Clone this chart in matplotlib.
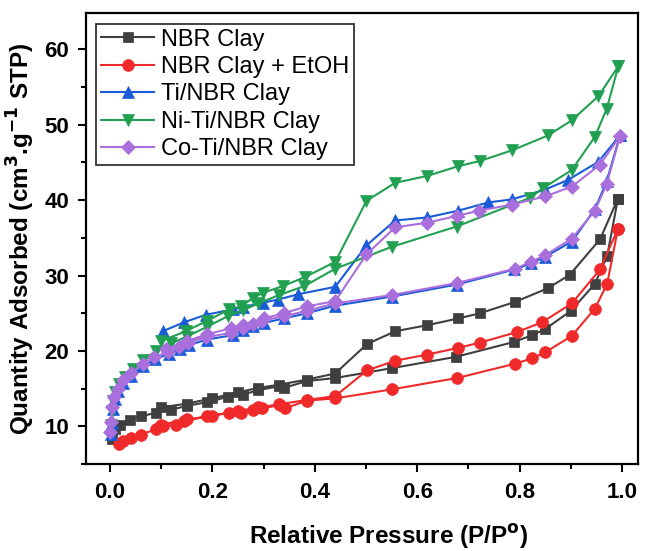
import numpy as np
import matplotlib

matplotlib.use("Agg")
import matplotlib.pyplot as plt

plt.rcParams["font.family"] = ["Liberation Sans", "DejaVu Sans"]

labels = ["NBR Clay", "NBR Clay + EtOH", "Ti/NBR Clay", "Ni-Ti/NBR Clay", "Co-Ti/NBR Clay"]

# NBR Clay
nbr_ads_p = [0.005, 0.01, 0.02, 0.04, 0.06, 0.09, 0.12, 0.15, 0.19, 0.23, 0.26, 0.29, 0.33, 0.34,
             0.385, 0.44, 0.55, 0.675, 0.79, 0.825, 0.85, 0.9, 0.947, 0.971, 0.992]
nbr_ads_q = [8.3, 9.6, 10.2, 10.8, 11.3, 11.8, 12.2, 12.7, 13.2, 13.9, 14.2, 14.8, 15.3, 15.1,
             16.0, 16.4, 17.7, 19.2, 21.2, 22.1, 22.9, 25.3, 28.9, 32.6, 40.2]
nbr_des_p = [0.992, 0.957, 0.898, 0.855, 0.791, 0.723, 0.68, 0.619, 0.557, 0.502, 0.44, 0.385,
             0.33, 0.29, 0.25, 0.2, 0.15, 0.1]
nbr_des_q = [40.2, 34.8, 30.1, 28.3, 26.5, 25.0, 24.3, 23.4, 22.6, 20.9, 17.0, 16.2,
             15.5, 15.1, 14.5, 13.7, 13.0, 12.5]

# NBR Clay + EtOH
etoh_ads_p = [0.018, 0.025, 0.041, 0.06, 0.09, 0.103, 0.129, 0.145, 0.19, 0.233, 0.256, 0.279,
              0.298, 0.332, 0.342, 0.385, 0.44, 0.551, 0.678, 0.791, 0.824, 0.85, 0.902, 0.947,
              0.971, 0.992]
etoh_ads_q = [7.6, 8.0, 8.5, 8.9, 9.6, 10.0, 10.2, 10.7, 11.3, 11.8, 11.8, 12.2,
              12.4, 12.8, 12.4, 13.4, 13.7, 14.9, 16.4, 18.3, 19.0, 19.8, 22.0, 25.6,
              28.9, 36.2]
etoh_des_p = [0.992, 0.957, 0.902, 0.844, 0.795, 0.723, 0.68, 0.619, 0.557, 0.502, 0.44, 0.385,
              0.33, 0.29, 0.25, 0.2, 0.15, 0.1]
etoh_des_q = [36.2, 30.8, 26.3, 23.8, 22.5, 21.1, 20.4, 19.5, 18.7, 17.4, 14.0, 13.5,
              12.9, 12.5, 12.0, 11.4, 10.9, 10.2]

# Ti/NBR Clay
ti_ads_p = [0.002, 0.004, 0.006, 0.01, 0.016, 0.026, 0.042, 0.065, 0.088, 0.115, 0.137, 0.155,
            0.19, 0.24, 0.26, 0.28, 0.3, 0.34, 0.385, 0.44, 0.55, 0.677, 0.79, 0.822, 0.85,
            0.902, 0.947, 0.97, 0.996]
ti_ads_q = [9.0, 10.4, 12.3, 13.6, 14.7, 15.8, 16.7, 18.0, 18.9, 19.6, 20.2, 20.8,
            21.5, 22.1, 22.8, 23.3, 23.7, 24.3, 25.0, 26.0, 27.2, 28.8, 30.8, 31.6, 32.5,
            34.5, 38.8, 42.5, 48.6]
ti_des_p = [0.996, 0.954, 0.895, 0.85, 0.785, 0.739, 0.68, 0.619, 0.557, 0.501, 0.44, 0.367,
            0.328, 0.299, 0.26, 0.24, 0.188, 0.145, 0.103]
ti_des_q = [48.6, 45.1, 42.7, 41.4, 40.1, 39.7, 38.6, 37.7, 37.3, 34.0, 28.5, 27.5,
            26.8, 26.4, 25.8, 25.5, 24.8, 23.8, 22.6]

# Ni-Ti/NBR Clay
niti_ads_p = [0.002, 0.004, 0.006, 0.01, 0.018, 0.03, 0.045, 0.065, 0.09, 0.12, 0.15, 0.19,
              0.23, 0.26, 0.29, 0.33, 0.38, 0.44, 0.55, 0.677, 0.82, 0.846, 0.902, 0.947,
              0.97, 0.993]
niti_ads_q = [10.2, 12.0, 13.3, 14.6, 15.6, 16.6, 17.6, 18.8, 20.0, 21.0, 21.9, 23.2,
              24.6, 25.4, 26.3, 27.4, 28.6, 30.9, 33.8, 36.5, 40.3, 41.6, 44.0, 48.4,
              52.1, 57.8]
niti_des_p = [0.993, 0.954, 0.902, 0.856, 0.785, 0.723, 0.68, 0.619, 0.557, 0.501, 0.44, 0.381,
              0.338, 0.299, 0.279, 0.256, 0.233, 0.19, 0.148, 0.1]
niti_des_q = [57.8, 53.8, 50.6, 48.6, 46.6, 45.2, 44.5, 43.2, 42.3, 39.9, 31.8, 29.8,
              28.6, 27.7, 27.0, 25.9, 25.5, 24.0, 22.6, 21.3]

# Co-Ti/NBR Clay
coti_ads_p = [0.0, 0.002, 0.005, 0.008, 0.015, 0.025, 0.041, 0.064, 0.086, 0.113, 0.135, 0.152,
              0.188, 0.236, 0.259, 0.279, 0.298, 0.34, 0.384, 0.44, 0.55, 0.677, 0.791, 0.822,
              0.85, 0.902, 0.947, 0.97, 0.996]
coti_ads_q = [9.2, 10.6, 12.6, 13.9, 15.0, 16.1, 17.0, 18.3, 19.2, 19.8, 20.5, 21.1,
              21.8, 22.4, 23.1, 23.6, 24.0, 24.6, 25.3, 26.3, 27.4, 29.0, 30.9, 31.8,
              32.7, 34.9, 38.6, 42.1, 48.5]
coti_des_p = [0.996, 0.957, 0.902, 0.85, 0.785, 0.72, 0.677, 0.619, 0.557, 0.501, 0.44, 0.384,
              0.34, 0.3, 0.26, 0.236, 0.19, 0.15, 0.11]
coti_des_q = [48.5, 44.7, 41.8, 40.5, 39.4, 38.6, 37.9, 37.0, 36.4, 32.8, 26.6, 25.9,
              25.0, 24.3, 23.5, 23.0, 22.2, 21.3, 20.2]

series = [
    (nbr_ads_p + nbr_des_p, nbr_ads_q + nbr_des_q, "#3f3f3f", "s", 7.5),
    (etoh_ads_p + etoh_des_p, etoh_ads_q + etoh_des_q, "#f02a2a", "o", 8.5),
    (ti_ads_p + ti_des_p, ti_ads_q + ti_des_q, "#1a5cd8", "^", 8.5),
    (niti_ads_p + niti_des_p, niti_ads_q + niti_des_q, "#22a052", "v", 8.5),
    (coti_ads_p + coti_des_p, coti_ads_q + coti_des_q, "#a96fdc", "D", 7.5),
]

fig = plt.figure(figsize=(6.45, 5.51), dpi=100)
ax = fig.add_axes([0.133, 0.158, 0.856, 0.818])

for (p, q, color, marker, ms), label in zip(series, labels):
    ax.plot(p, q, color=color, marker=marker, markersize=ms, linewidth=1.5,
            markeredgewidth=0.5, label=label)

ax.set_xlim(-0.047, 1.031)
ax.set_ylim(5.7, 64.8)
ax.set_xticks(np.arange(0, 1.01, 0.2))
ax.set_xticks(np.arange(0.1, 1.0, 0.2), minor=True)
ax.set_yticks(np.arange(10, 61, 10))
ax.set_yticks(np.arange(5, 65, 10), minor=True)
ax.tick_params(which="both", direction="out", width=1.5, top=False, right=False)
ax.tick_params(which="major", length=6, labelsize=16)
ax.tick_params(which="minor", length=3.5)
ax.tick_params(axis="x", pad=7)
ax.tick_params(axis="y", pad=6)
for lab in ax.get_xticklabels() + ax.get_yticklabels():
    lab.set_fontweight("bold")
for s in ax.spines.values():
    s.set_linewidth(1.6)

ax.set_xlabel("Relative Pressure (P/P$^{\\mathbf{o}}$)", fontsize=17.5, fontweight="bold", labelpad=14)
ax.xaxis.label.set_x(0.549)
ax.set_ylabel("Quantity Adsorbed (cm$^{\\mathbf{3}}$.g$^{\\mathbf{-1}}$ STP)", fontsize=17.5,
              fontweight="bold", labelpad=5)

leg = ax.legend(loc="upper left", fontsize=17, handlelength=2.25, frameon=True, fancybox=False,
                edgecolor="black", borderpad=0.2, labelspacing=0.23, handletextpad=0.3,
                borderaxespad=0.45)
leg.get_frame().set_linewidth(1.3)

fig.savefig("out.png", dpi=100)
